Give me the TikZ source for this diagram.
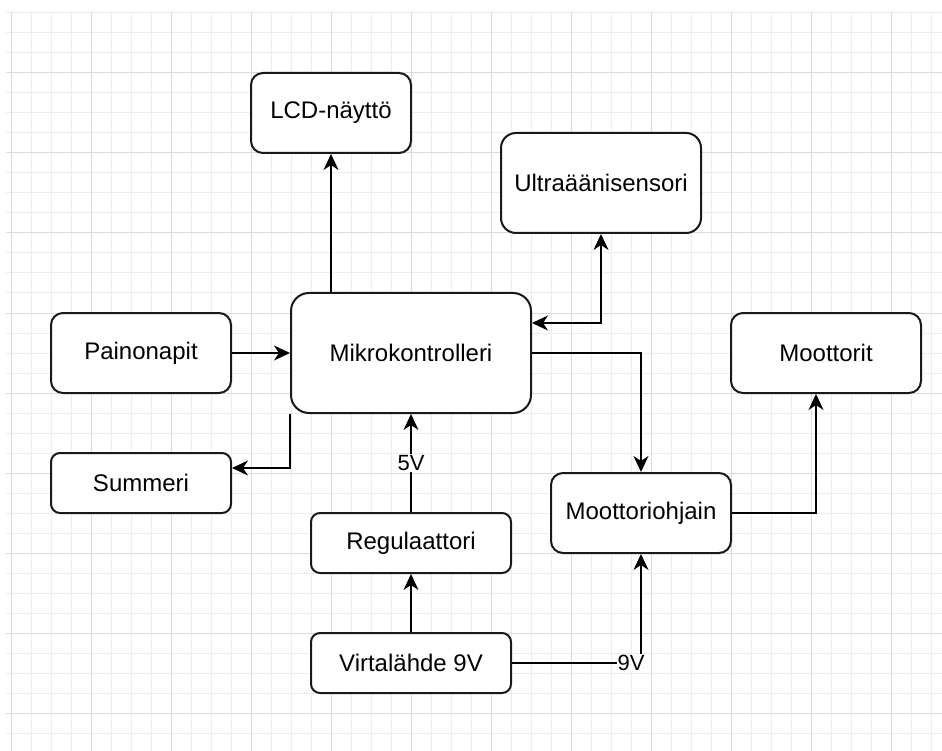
\documentclass[tikz,border=0pt]{standalone}
\usepackage{fontspec}
\setmainfont{Liberation Sans}
\usetikzlibrary{arrows.meta,calc}
\tikzset{
  box/.style={draw=black!90, line width=2pt, fill=white, rounded corners=#1,
    inner sep=0pt, font=\fontsize{24}{28}\selectfont, text=black},
  arr/.style={line width=2pt, draw=black, -{Stealth[length=16pt,width=15pt,inset=5pt]}},
  arrboth/.style={line width=2pt, draw=black, {Stealth[length=16pt,width=15pt,inset=5pt]}-{Stealth[length=16pt,width=15pt,inset=5pt]}},
  lbl/.style={fill=white, inner sep=1pt, font=\fontsize{22}{26}\selectfont, text=black},
  minorgrid/.style={draw=black!7, line width=1pt},
  majorgrid/.style={draw=black!14, line width=1pt}
}
\begin{document}
\begin{tikzpicture}[x=1pt,y=-1pt]
  \useasboundingbox (0,0) rectangle (942,751);
  \fill[white] (0,0) rectangle (942,751);
  % grid
  \foreach \x in {31,51,71,111,131,151,191,211,231,271,291,311,351,371,391,431,451,471,511,531,551,591,611,631,671,691,711,751,771,791,831,851,871,911,931}
    \draw[minorgrid] (\x,12) -- (\x,751);
  \foreach \y in {13,33,53,93,113,133,173,193,213,253,273,293,333,353,373,413,433,453,493,513,533,573,593,613,653,673,693,733}
    \draw[minorgrid] (6,\y) -- (942,\y);
  \foreach \x in {11,91,171,251,331,411,491,571,651,731,811,891}
    \draw[majorgrid] (\x,12) -- (\x,751);
  \foreach \y in {73,153,233,313,393,473,553,633,713}
    \draw[majorgrid] (6,\y) -- (942,\y);

  % nodes
  \node[box=12pt, minimum width=160pt, minimum height=80pt] (lcd) at (331,113) {LCD-näyttö};
  \node[box=15pt, minimum width=200pt, minimum height=100pt] (ultra) at (601,183) {Ultraäänisensori};
  \node[box=18pt, minimum width=240pt, minimum height=120pt] (mikro) at (411,353) {Mikrokontrolleri};
  \node[box=12pt, minimum width=180pt, minimum height=80pt] (painon) at (141,353) {Painonapit};
  \node[box=12pt, minimum width=190pt, minimum height=80pt] (moott) at (826,353) {Moottorit};
  \node[box=9pt, minimum width=180pt, minimum height=60pt] (summ) at (141,483) {Summeri};
  \node[box=12pt, minimum width=180pt, minimum height=80pt] (mohj) at (641,513) {Moottoriohjain};
  \node[box=9pt, minimum width=200pt, minimum height=60pt] (regul) at (411,543) {Regulaattori};
  \node[box=9pt, minimum width=200pt, minimum height=60pt] (virta) at (411,663) {Virtalähde 9V};

  % connectors
  \draw[arr] (lcd.south |- mikro.north) -- (lcd.south);
  \draw[arrboth] ([yshift=30pt]mikro.east) -| (ultra.south);
  \draw[arr] (mikro.east) -| (mohj.north);
  \draw[arr] (painon.east) -- (mikro.west);
  \draw[arr] (mikro.south west) |- ([yshift=15pt]summ.east);
  \draw[arr] (regul.north) -- (mikro.south)
    node[lbl, midway] {5V};
  \draw[arr] (virta.north) -- (regul.south);
  \draw[arr] (virta.east) -| (mohj.south);
  \node[lbl] (lbl9) at ($(virta.east -| mohj.south)+(-10,0)$) {9V};
  \draw[arr] (mohj.east) -| ([xshift=-10pt]moott.south);
\end{tikzpicture}
\end{document}
